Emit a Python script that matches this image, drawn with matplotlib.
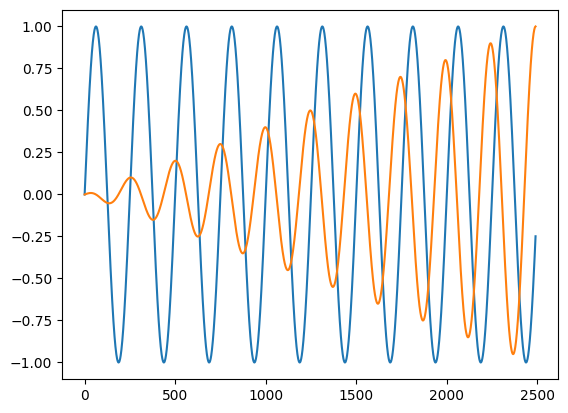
import numpy as np
import matplotlib
matplotlib.use("Agg")
import matplotlib.pyplot as plt

# values
x_last = 2490            # last sample on the x axis
blue_period = 250        # blue: unit sine, starts at 0, ends near -0.25
orange_period = 249      # orange: cosine whose amplitude grows linearly 0 -> 1
orange_amp_end = 1.0

x = np.arange(0, x_last + 1)
blue = np.sin(2 * np.pi * x / blue_period)
orange = orange_amp_end * (x / x_last) * np.cos(2 * np.pi * x / orange_period)

fig, ax = plt.subplots(figsize=(6.4, 4.8), dpi=100)
ax.plot(x, blue)
ax.plot(x, orange)

fig.savefig("out.png", dpi=100, bbox_inches="tight")
